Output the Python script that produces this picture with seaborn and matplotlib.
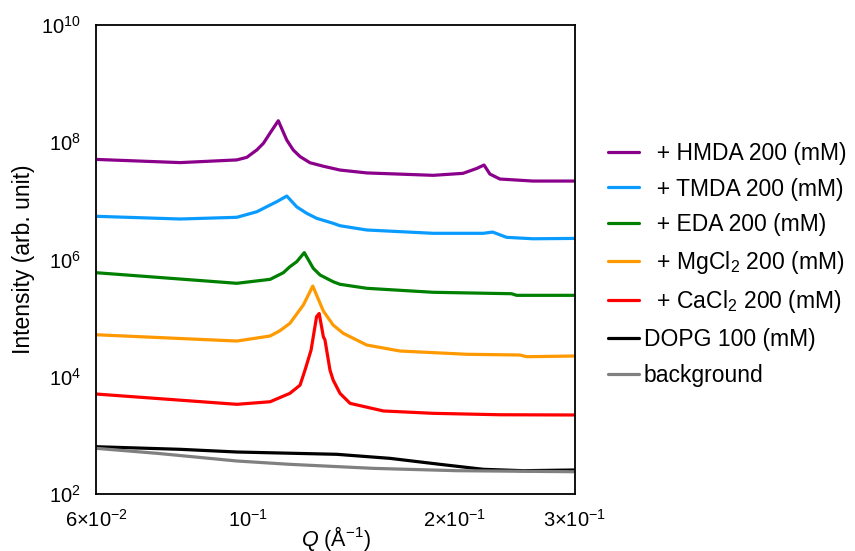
import matplotlib
matplotlib.use("Agg")
import matplotlib.pyplot as plt
import matplotlib.ticker as mticker
import numpy as np
import seaborn as sns

# values (Q in 1/A, intensity in arb. unit)
q_hmda = [0.06, 0.0796, 0.0963, 0.0996, 0.1030, 0.1053, 0.1077, 0.1107, 0.1139, 0.1164,
          0.1191, 0.1231, 0.1288, 0.1362, 0.1490, 0.1863, 0.2059, 0.2158, 0.2210, 0.2254,
          0.2331, 0.2605, 0.3]
i_hmda = [5.1e7, 4.5e7, 5.0e7, 5.54e7, 7.4e7, 9.6e7, 1.44e8, 2.33e8, 1.09e8, 7.38e7,
          5.7e7, 4.48e7, 3.9e7, 3.36e7, 3.0e7, 2.73e7, 2.95e7, 3.59e7, 4.09e7, 2.87e7,
          2.36e7, 2.18e7, 2.18e7]

q_tmda = [0.06, 0.0796, 0.0963, 0.1030, 0.1065, 0.1101, 0.1139, 0.1178, 0.1218, 0.1259,
          0.1331, 0.1362, 0.1490, 0.1863, 0.2205, 0.2275, 0.2384, 0.2605, 0.3]
i_tmda = [5.46e6, 4.91e6, 5.25e6, 6.53e6, 7.96e6, 9.68e6, 1.21e7, 7.9e6, 6.14e6, 5.05e6,
          4.15e6, 3.77e6, 3.19e6, 2.80e6, 2.80e6, 2.94e6, 2.39e6, 2.26e6, 2.29e6]

q_eda = [0.06, 0.0963, 0.1077, 0.1126, 0.1151, 0.1178, 0.1208, 0.1245, 0.1274, 0.1331,
         0.1362, 0.1490, 0.1863, 0.2424, 0.2466, 0.3]
i_eda = [5.96e5, 3.93e5, 4.59e5, 5.96e5, 7.54e5, 9.2e5, 1.31e6, 7.08e5, 5.44e5, 4.18e5,
         3.78e5, 3.23e5, 2.76e5, 2.61e5, 2.45e5, 2.45e5]

q_mg = [0.06, 0.0963, 0.1077, 0.1113, 0.1151, 0.1204, 0.1243, 0.1288, 0.1331, 0.1377,
        0.1490, 0.1666, 0.2085, 0.2493, 0.2550, 0.3]
i_mg = [5.21e4, 4.07e4, 4.96e4, 6.1e4, 8.16e4, 1.67e5, 3.53e5, 1.32e5, 7.63e4, 5.51e4,
        3.48e4, 2.75e4, 2.42e4, 2.35e4, 2.20e4, 2.26e4]

q_ca = [0.06, 0.0963, 0.1077, 0.1151, 0.1191, 0.1211, 0.1236, 0.1259, 0.1270, 0.1288,
        0.1295, 0.1317, 0.1331, 0.1362, 0.1409, 0.1576, 0.1863, 0.2331, 0.3]
i_ca = [5.08e3, 3.39e3, 3.75e3, 5.22e3, 7.2e3, 1.30e4, 2.86e4, 1.06e5, 1.20e5, 4.82e4,
        4.24e4, 1.30e4, 8.8e3, 5.22e3, 3.52e3, 2.61e3, 2.38e3, 2.25e3, 2.23e3]

q_dopg = [0.06, 0.0796, 0.0963, 0.1347, 0.1611, 0.1906, 0.2205, 0.2521, 0.3]
i_dopg = [641, 579, 521, 476, 406, 321, 264, 250, 257]

q_bg = [0.06, 0.0736, 0.0963, 0.1151, 0.1524, 0.2016, 0.3]
i_bg = [602, 495, 366, 321, 274, 250, 240]

labels = [r"  + HMDA 200 (mM)", r"  + TMDA 200 (mM)", r"  + EDA 200 (mM)",
          r"  + MgCl$_2$ 200 (mM)", r"  + CaCl$_2$ 200 (mM)", "DOPG 100 (mM)", "background"]
colors = ["#8B008B", "#0A9BFF", "#008000", "#FF9900", "#FF0000", "#000000", "#808080"]

sns.set_style("white")
plt.rcParams['font.family'] = ['Liberation Sans', 'DejaVu Sans']
plt.rcParams['mathtext.fontset'] = 'custom'
plt.rcParams['mathtext.rm'] = 'Liberation Sans'
plt.rcParams['mathtext.it'] = 'Liberation Sans:italic'
plt.rcParams['text.color'] = 'black'
plt.rcParams['axes.labelcolor'] = 'black'
plt.rcParams['xtick.color'] = 'black'
plt.rcParams['ytick.color'] = 'black'

fig = plt.figure(figsize=(8.55, 5.51), dpi=100)
ax = fig.add_axes([0.1123, 0.1034, 0.5602, 0.8512])

series = [(q_hmda, i_hmda), (q_tmda, i_tmda), (q_eda, i_eda), (q_mg, i_mg),
          (q_ca, i_ca), (q_dopg, i_dopg), (q_bg, i_bg)]
for (q, inten), lab, c in zip(series, labels, colors):
    sns.lineplot(x=q, y=inten, color=c, label=lab, lw=2.3, sort=False,
                 estimator=None, ax=ax)

ax.set_xscale("log")
ax.set_yscale("log")
ax.set_xlim(0.06, 0.3)
ax.set_ylim(1e2, 1e10)

ax.yaxis.set_major_locator(mticker.FixedLocator([1e2, 1e4, 1e6, 1e8, 1e10]))
ax.yaxis.set_minor_locator(mticker.NullLocator())
ax.yaxis.set_major_formatter(mticker.FixedFormatter(
    [r"$\mathregular{10^{2}}$", r"$\mathregular{10^{4}}$", r"$\mathregular{10^{6}}$",
     r"$\mathregular{10^{8}}$", r"$\mathregular{10^{10}}$"]))
ax.xaxis.set_major_locator(mticker.FixedLocator([0.06, 0.1, 0.2, 0.3]))
ax.xaxis.set_minor_locator(mticker.FixedLocator([0.07, 0.08, 0.09]))
ax.xaxis.set_major_formatter(mticker.FixedFormatter(
    [r"$\mathregular{6{\times}10^{-2}}$", r"$\mathregular{10^{-1}}$",
     r"$\mathregular{2{\times}10^{-1}}$", r"$\mathregular{3{\times}10^{-1}}$"]))
ax.xaxis.set_minor_formatter(mticker.NullFormatter())

ax.tick_params(axis="both", which="major", direction="in", length=5, width=1.2,
               labelsize=14.5, color="black", labelcolor="black")
ax.tick_params(axis="y", which="major", pad=11)
ax.tick_params(axis="x", which="major", pad=11)
ax.tick_params(axis="x", which="minor", direction="in", length=3, width=1, color="black")
for s in ax.spines.values():
    s.set_color("black")
    s.set_linewidth(1.3)

ax.set_xlabel(r"$\mathit{Q}$ (Å$^{-1}$)", fontsize=15.5, color="black")
ax.xaxis.set_label_coords(0.5, -0.063)
ax.set_ylabel("Intensity (arb. unit)", fontsize=16.5, color="black")
ax.yaxis.set_label_coords(-0.127, 0.5)

leg = ax.legend(loc="center left", bbox_to_anchor=(1.069, 0.49), frameon=False,
                fontsize=16.5, handlelength=1.35, handletextpad=0.2, labelspacing=0.55,
                borderpad=0, borderaxespad=0)
for t in leg.get_texts():
    t.set_color("black")

fig.savefig("out.png", dpi=100)
